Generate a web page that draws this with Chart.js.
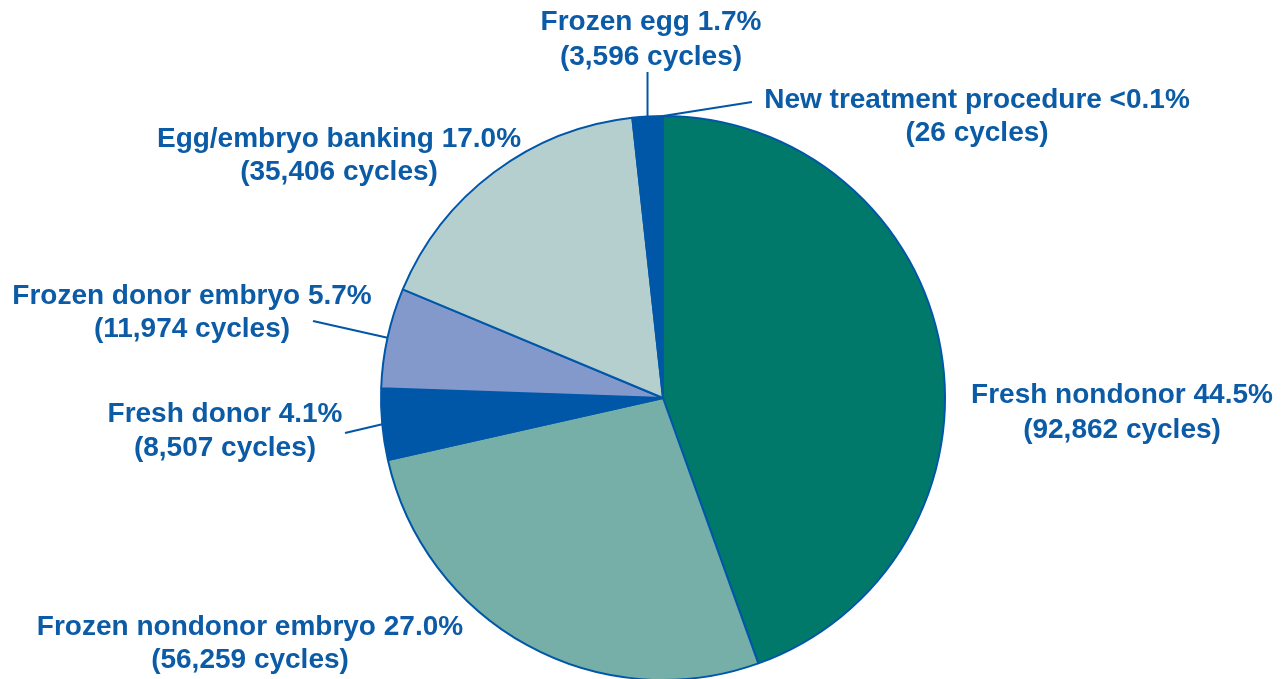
<!DOCTYPE html>
<html><head><meta charset="utf-8">
<script src="https://cdn.jsdelivr.net/npm/chart.js@4.4.1/dist/chart.umd.min.js"></script>
<style>
html,body{margin:0;padding:0;background:#fff;overflow:hidden;}
#wrap{position:relative;width:1286px;height:700px;}
</style></head>
<body>
<div id="wrap"><canvas id="c"></canvas></div>
<script>
const categories = ["Fresh nondonor","Frozen nondonor embryo","Fresh donor","Frozen donor embryo","Egg/embryo banking","Frozen egg","New treatment procedure"];
const cycles = [92862, 56259, 8507, 11974, 35406, 3596, 26];
const percentLabels = ["44.5%","27.0%","4.1%","5.7%","17.0%","1.7%","<0.1%"];
const cycleLabels = ["92,862","56,259","8,507","11,974","35,406","3,596","26"];

const colors = ["#00796a","#76aea8","#0057a8","#8399cc","#b5cfcf","#0057a8","#b9bdd9"];
const textColor = "#0b5ba6";
const FONT = "bold 28px 'Liberation Sans', Arial, sans-serif";

// label layout: text center x, line y's; optional leader end point
const labelLayout = [
  {x:1122, y:395, y2:430, lead:null},
  {x:250, y:627, y2:660, lead:null},
  {x:225, y:414, y2:448, lead:[345,433]},
  {x:192, y:296, y2:329, lead:[313,321]},
  {x:339, y:139, y2:172, lead:null},
  {x:651, y:22, y2:57, lead:[645,72], vertical:true},
  {x:977, y:100, y2:133, lead:[752,102], atEnd:true}
];

const labelPlugin = {
  id:'labels',
  afterDraw(chart){
    const ctx = chart.ctx;
    const meta = chart.getDatasetMeta(0);
    ctx.save();
    ctx.font = FONT;
    ctx.fillStyle = textColor;
    ctx.textAlign = 'center';
    ctx.textBaseline = 'middle';
    ctx.strokeStyle = "#0057a8";
    ctx.lineWidth = 2;
    meta.data.forEach((arc,i)=>{
      const L = labelLayout[i];
      const l1 = categories[i] + " " + percentLabels[i];
      const l2 = "(" + cycleLabels[i] + " cycles)";
      ctx.fillText(l1, L.x, L.y);
      ctx.fillText(l2, L.x, L.y2);
      if (L.lead){
        const p = arc.getProps(['x','y','startAngle','endAngle','outerRadius'], true);
        let ang = L.atEnd ? p.endAngle : (p.startAngle + p.endAngle)/2;
        let sx = p.x + Math.cos(ang)*p.outerRadius;
        let sy = p.y + Math.sin(ang)*p.outerRadius;
        let ex = L.lead[0], ey = L.lead[1];
        if (L.vertical){ ex = sx; }
        ctx.beginPath();
        ctx.moveTo(sx, sy);
        ctx.lineTo(ex, ey);
        ctx.stroke();
      }
    });
    ctx.restore();
  }
};

new Chart(document.getElementById('c'), {
  type:'pie',
  data:{
    labels: categories,
    datasets:[{
      data: cycles,
      backgroundColor: colors,
      borderColor: "#0057a8",
      borderWidth: 2
    }]
  },
  options:{
    responsive:true,
    maintainAspectRatio:false,
    animation:false,
    layout:{padding:{left:380,right:340,top:115,bottom:19}},
    plugins:{legend:{display:false},tooltip:{enabled:false}}
  },
  plugins:[labelPlugin]
});
</script>
</body></html>
